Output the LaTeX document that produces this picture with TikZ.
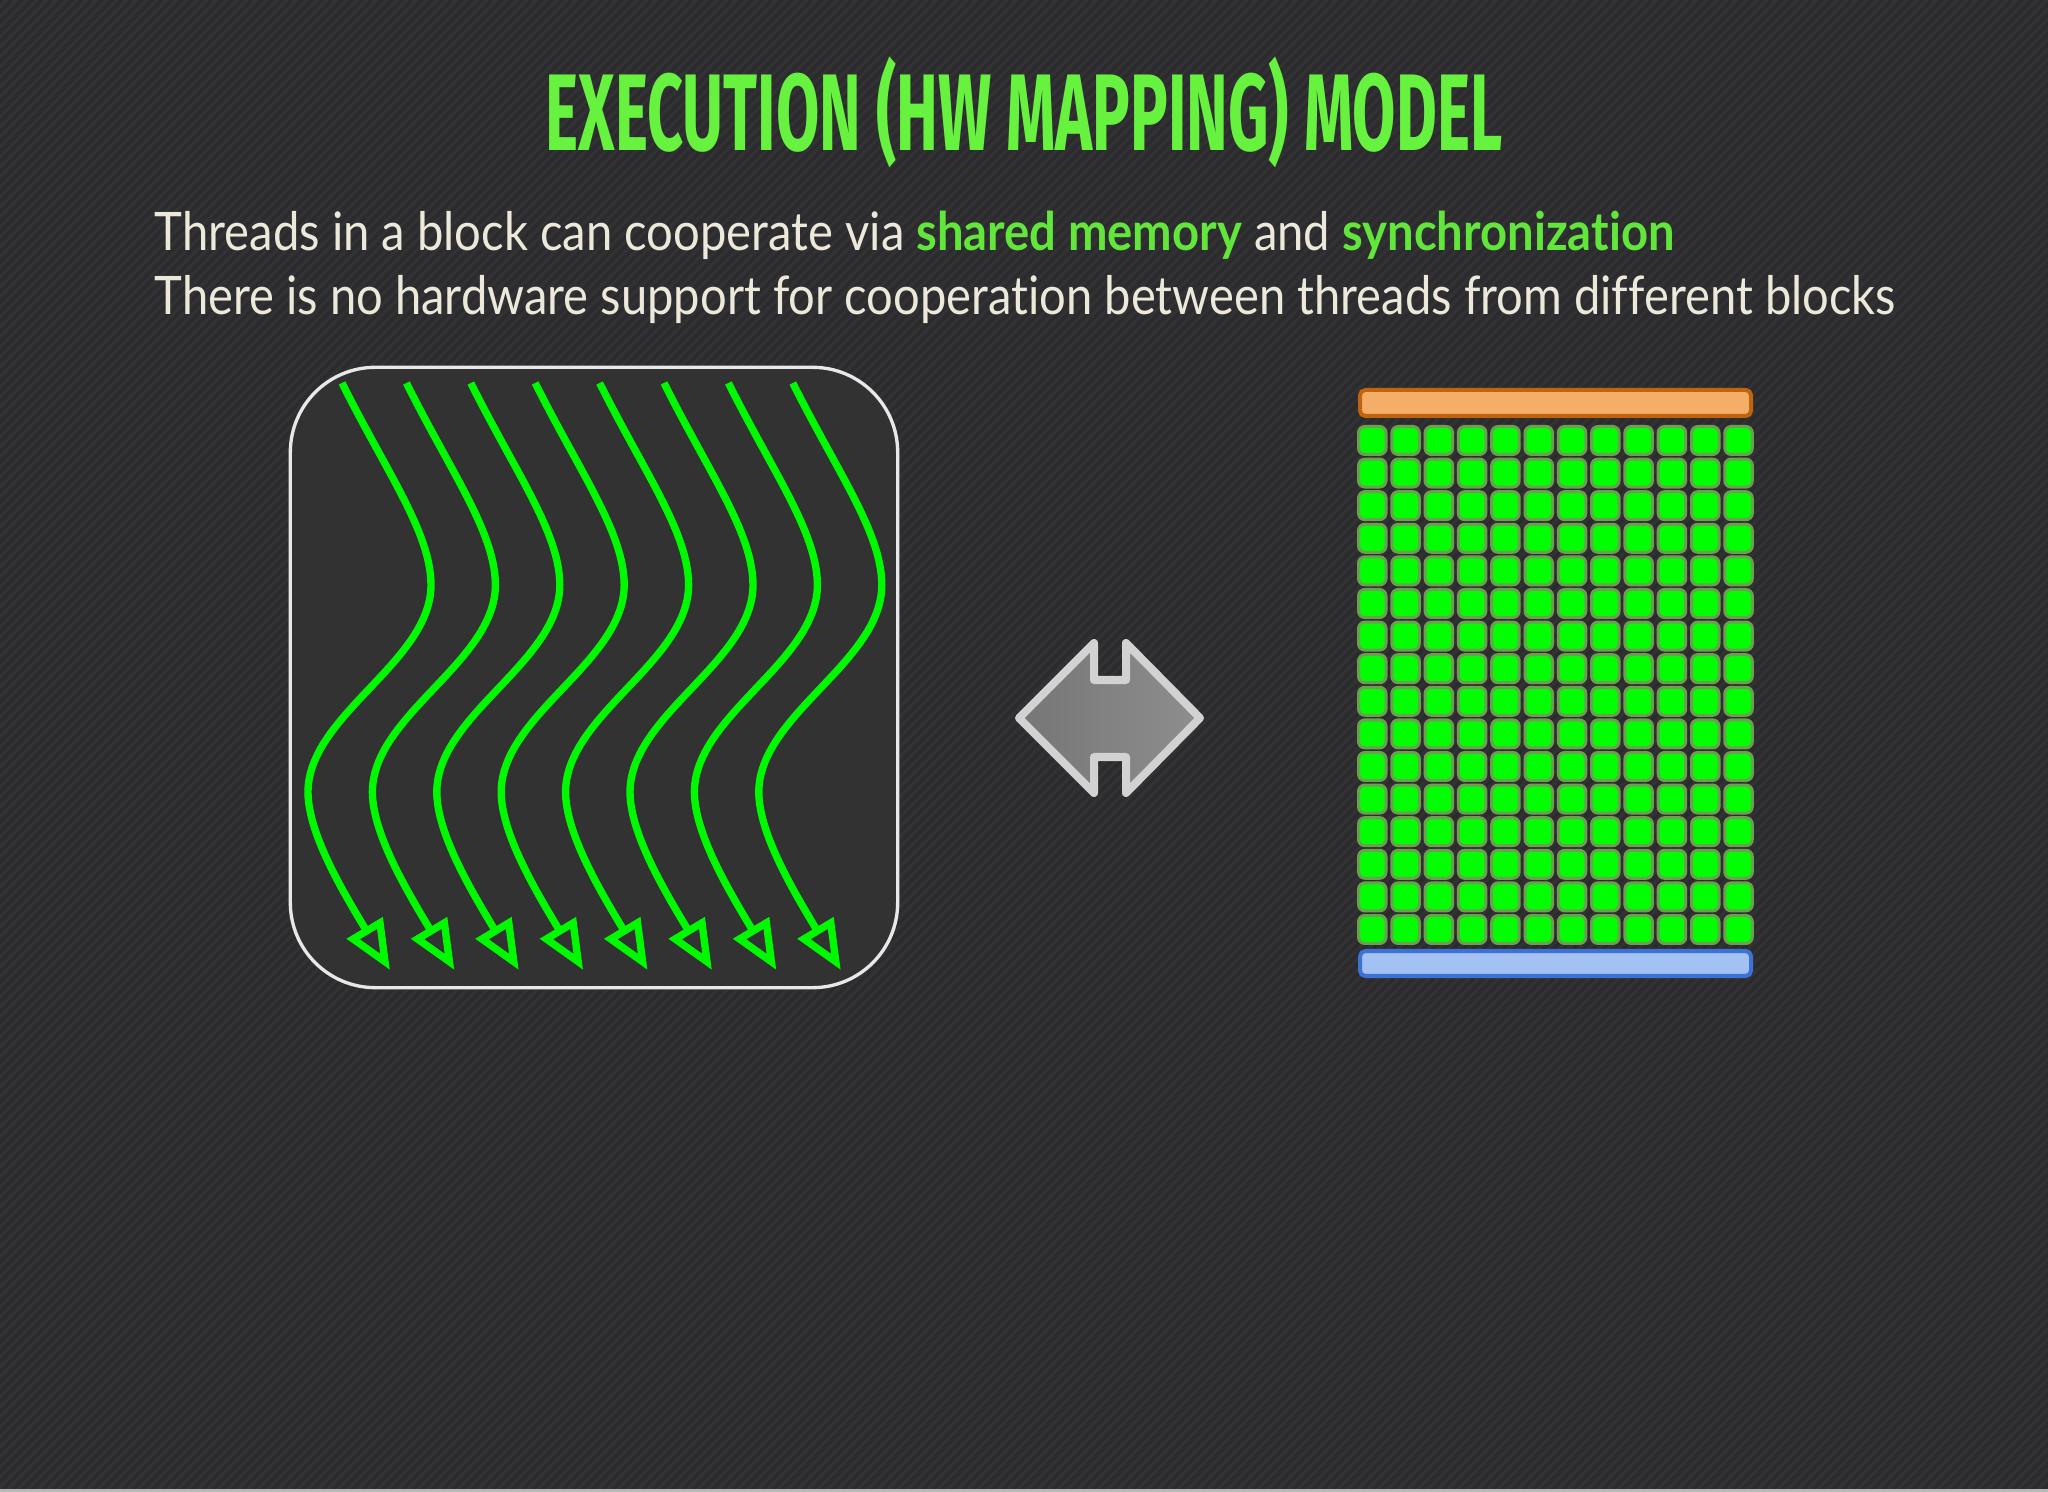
\documentclass[tikz,border=0pt]{standalone}
\usepackage{fontspec}
\setmainfont{Lato}[Ligatures={NoCommon}]
\newfontfamily\titlefont{Fira Sans}
\usetikzlibrary{arrows.meta}
\definecolor{bg}{HTML}{323134}
\definecolor{stripe}{HTML}{2B2A2D}
\definecolor{boxfill}{HTML}{323232}
\definecolor{boxline}{HTML}{E8E8E8}
\definecolor{titlegreen}{HTML}{66F23E}
\definecolor{hlgreen}{HTML}{62E63C}
\definecolor{cream}{HTML}{ECE8DA}
\definecolor{thread}{HTML}{00F800}
\definecolor{arrowline}{HTML}{D2D2D2}
\definecolor{arrowdark}{HTML}{767676}
\definecolor{arrowlight}{HTML}{8E8E8E}
\definecolor{cellgreen}{HTML}{00FF00}
\definecolor{celledge}{HTML}{6BA050}
\definecolor{orangeedge}{HTML}{C0640F}
\definecolor{orangefill}{HTML}{F5AE68}
\definecolor{blueedge}{HTML}{3C72D6}
\definecolor{bluefill}{HTML}{A3C1F2}
\tikzset{
  threadarrow/.style={draw=thread, line width=2.1pt, -{Triangle[open,length=14pt,width=11.5pt]}},
  cellbox/.style={draw=celledge, fill=cellgreen, line width=0.85pt, rounded corners=1.8pt},
  textline/.style={anchor=base west, inner sep=0pt, text=cream, font=\fontsize{15.1pt}{18pt}\selectfont}
}
\begin{document}
\begin{tikzpicture}[x=0.01cm,y=-0.01cm]
\useasboundingbox (0,0) rectangle (2048,1492);
\fill[bg] (0,0) rectangle (2048,1492);
\begin{scope}
  \clip (0,0) rectangle (2048,1492);
  \foreach \k in {-1500,-1490,...,2050} \draw[stripe, line width=0.9pt] (\k,1492) -- (\k+1492,0);
\end{scope}
\fill[gray!55] (0,1489) rectangle (2048,1492);

% title
\node[anchor=base, inner sep=0pt, text=titlegreen, font=\titlefont\bfseries\fontsize{31pt}{31pt}\selectfont] (title) at (1024,151)
  {\resizebox{9.56cm}{\height}{EXECUTION (HW MAPPING) MODEL}};

% text lines
\node[textline] (line1) at (154,251)
  {\resizebox{15.19cm}{\height}{Threads in a block can cooperate via \textcolor{hlgreen}{\bfseries shared memory} and \textcolor{hlgreen}{\bfseries synchronization}}};
\node[textline] (line2) at (154,315)
  {\resizebox{17.40cm}{\height}{There is no hardware support for cooperation between threads from different blocks}};

% thread block
\node[draw=boxline, fill=boxfill, line width=0.95pt, rounded corners=0.85cm, minimum width=6.07cm, minimum height=6.2cm, inner sep=0pt] (blockbox) at (594,677.5) {};
\foreach \i in {0,...,7} {
  \begin{scope}[shift={(342+\i*64.4,383)}]
    \draw[threadarrow] (0,0) .. controls (45,90) and (89,150) .. (89,202)
      .. controls (89,279) and (-34,332) .. (-34,409)
      .. controls (-34,450) and (0,507) .. (48,587);
  \end{scope}
}

% double arrow
\draw[line width=2.28pt, draw=arrowline, line join=round, left color=arrowdark, right color=arrowlight]
  (1019,718) -- (1094,643) -- (1094,680) -- (1126,680) -- (1126,643) -- (1200,718)
  -- (1126,793) -- (1126,757) -- (1094,757) -- (1094,793) -- cycle;

% hardware
\draw[draw=orangeedge, fill=orangefill, line width=1.14pt, rounded corners=1.5pt] (1360,390) rectangle (1751,416);
\foreach \c in {0,...,11} {
  \foreach \r in {0,...,15} {
    \draw[cellbox] (1358.5+\c*33.3,426.5+\r*32.6) rectangle ++(27.5,28);
  }
}
\draw[draw=blueedge, fill=bluefill, line width=1.14pt, rounded corners=1.5pt] (1360,951) rectangle (1751,976);
\end{tikzpicture}
\end{document}
